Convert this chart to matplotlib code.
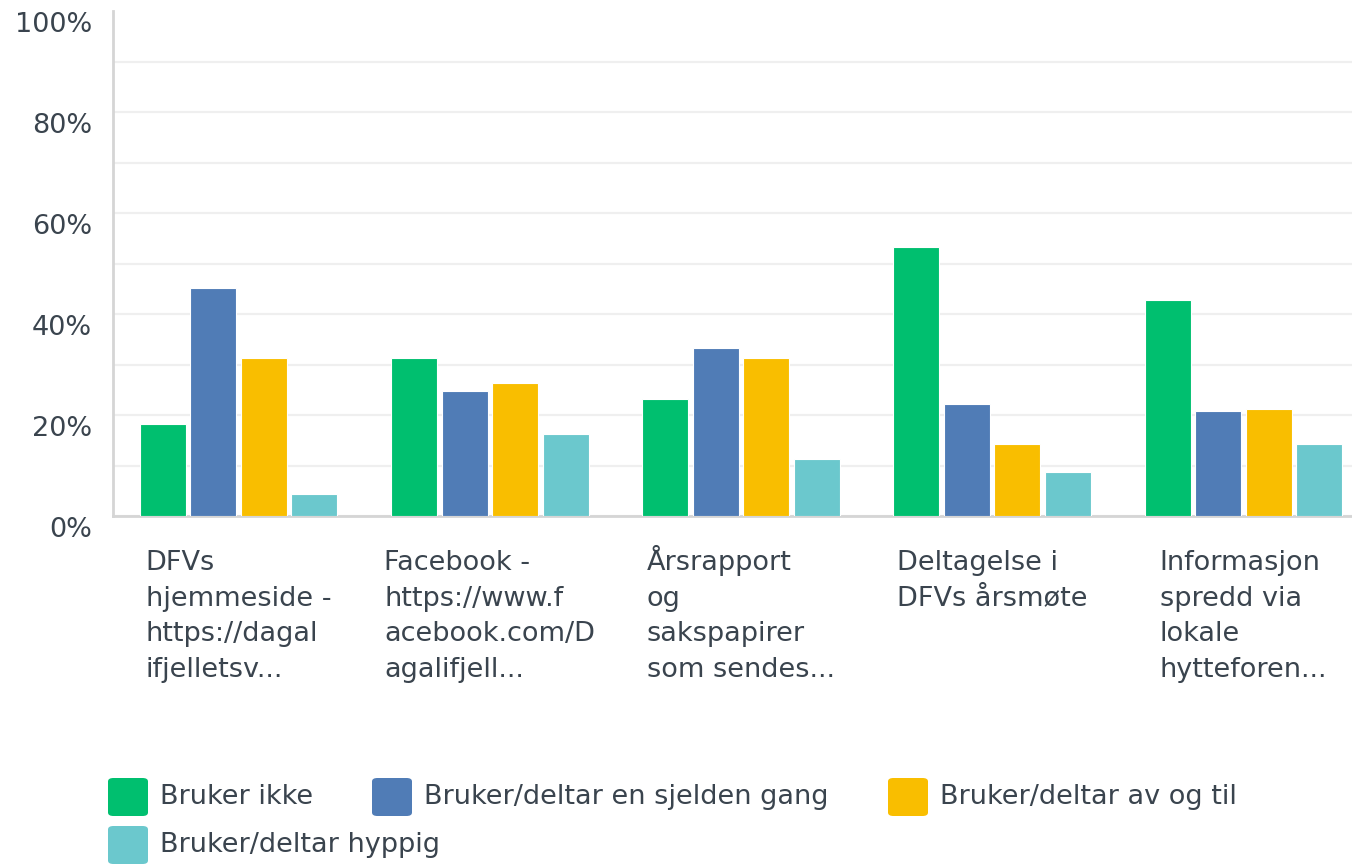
import matplotlib
matplotlib.use("Agg")
import matplotlib.pyplot as plt
import numpy as np
from matplotlib.transforms import ScaledTranslation
from matplotlib.patches import FancyBboxPatch

categories = [
    "DFVs\nhjemmeside -\nhttps://dagal\nifjelletsv...",
    "Facebook -\nhttps://www.f\nacebook.com/D\nagalifjell...",
    "Årsrapport\nog\nsakspapirer\nsom sendes...",
    "Deltagelse i\nDFVs årsmøte",
    "Informasjon\nspredd via\nlokale\nhytteforen...",
]
series_names = [
    "Bruker ikke",
    "Bruker/deltar en sjelden gang",
    "Bruker/deltar av og til",
    "Bruker/deltar hyppig",
]
bruker_ikke = [18.2, 31.3, 23.2, 53.3, 42.8]
sjelden = [45.1, 24.8, 33.3, 22.2, 20.8]
av_og_til = [31.3, 26.3, 31.3, 14.3, 21.2]
hyppig = [4.4, 16.2, 11.3, 8.7, 14.3]
yticks = [0, 10, 20, 30, 40, 50, 60, 70, 80, 90, 100]
ytick_labels = ["0%", "", "20%", "", "40%", "", "60%", "", "80%", "", "100%"]

colors = ["#00BF6F", "#507CB6", "#F9BE00", "#6BC8CD"]
text_color = "#3a444e"
font = "DejaVu Sans"
fs = 19.5

plt.rcParams['font.family'] = [font]

fig = plt.figure(figsize=(13.52, 8.65), dpi=100)
ax = fig.add_axes([113/1352, (865-516)/865, 1256/1352, (516-11)/865])

values = [bruker_ikke, sjelden, av_og_til, hyppig]
x = np.arange(len(categories))
slot = 0.201
width = 0.183
for j, (vals, c) in enumerate(zip(values, colors)):
    ax.bar(x + (j - 1.5) * slot, vals, width=width, color=c,
           edgecolor="white", linewidth=0.8, zorder=3)

ax.set_xlim(-0.5, len(categories) - 0.5)
ax.set_ylim(0, 100)

ax.set_yticks(yticks)
ax.set_yticklabels(ytick_labels, fontsize=fs, color=text_color)
ax.tick_params(axis='y', which='both', length=0, pad=15)
ax.grid(axis='y', which='major', color="#efefef", linewidth=1.6, zorder=0)
ax.yaxis.get_major_ticks()[-1].gridline.set_visible(False)
for lab in ax.get_yticklabels():
    lab.set_transform(lab.get_transform() + ScaledTranslation(0, -11/100, fig.dpi_scale_trans))

ax.set_xticks(x)
ax.set_xticklabels(categories, fontsize=fs, color=text_color, linespacing=1.48,
                   va='top', ha='center', multialignment='left')
ax.tick_params(axis='x', length=0, pad=24.5)

# keep first-line baselines aligned (tall glyphs like Å would push text down)
renderer = fig.canvas.get_renderer()
for lab in ax.get_xticklabels():
    fp = lab.get_fontproperties()
    first = lab.get_text().split("\n")[0]
    _, h1, d1 = renderer.get_text_width_height_descent(first, fp, ismath=False)
    _, h2, d2 = renderer.get_text_width_height_descent("lp", fp, ismath=False)
    extra = max(h1 - d1, h2 - d2) - (h2 - d2)
    if extra > 0:
        lab.set_transform(lab.get_transform() + ScaledTranslation(0, extra / fig.dpi, fig.dpi_scale_trans))

for s in ['top', 'right']:
    ax.spines[s].set_visible(False)
for s in ['left', 'bottom']:
    ax.spines[s].set_color("#d5d5d5")
    ax.spines[s].set_linewidth(2)

# Legend (flow layout)
W, H = 1352, 865
entries = [(108, 797), (372, 797), (888, 797), (108, 845)]
for (px, py), name, c in zip(entries, series_names, colors):
    sq = FancyBboxPatch(((px) / W, (H - py - 19) / H), 40 / W, 38 / H,
                        boxstyle="round,pad=0,rounding_size=0.004",
                        transform=fig.transFigure, facecolor=c, edgecolor='none')
    fig.patches.append(sq)
    fig.text((px + 52) / W, (H - py) / H, name, fontsize=fs, color=text_color,
             va='center', ha='left')

fig.savefig("out.png", dpi=100)
